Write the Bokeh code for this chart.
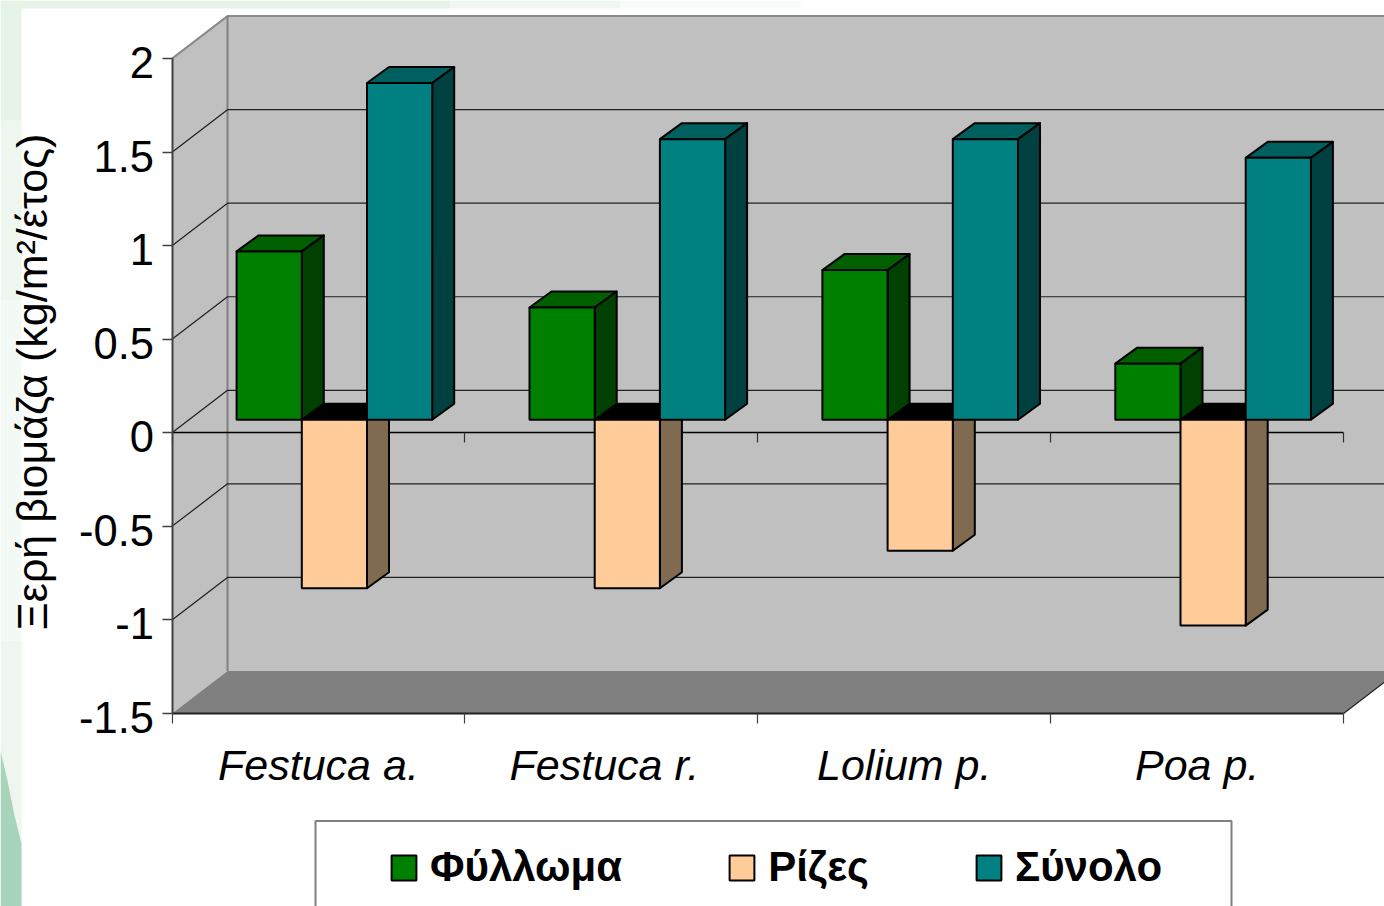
from bokeh.embed import file_html
from bokeh.resources import INLINE
from bokeh.plotting import figure
from bokeh.models import (ColumnDataSource, FixedTicker, Legend, LegendItem, LinearAxis, Range1d)

# ---- data ----
categories = ["Festuca a.", "Festuca r.", "Lolium p.", "Poa p."]
foliage = [0.9, 0.6, 0.8, 0.3]
roots = [-0.9, -0.9, -0.7, -1.1]
total = [1.8, 1.5, 1.5, 1.4]
series_names = ["Φύλλωμα", "Ρίζες", "Σύνολο"]
value_ticks = [-1.5, -1, -0.5, 0, 0.5, 1, 1.5, 2]
value_labels = ["-1.5", "-1", "-0.5", "0", "0.5", "1", "1.5", "2"]
y_title = "Ξερή βιομάζα (kg/m²/έτος)"

# ---- layout constants (pixels of the page) ----
W, H = 1384, 906
X0, CW = 171.5, 292.9      # left end of the category axis, width of a category
Y0, VH = 432.3, 187.1      # page y of value 0, pixels per unit
px = lambda n: n / CW
py = lambda n: n / VH
DX, DY = px(55.5), py(42.5)  # depth of the chart box
BW = px(65.2)              # bar width
BOFF, BLIFT = px(64.6), py(13)
BDX, BDY = px(22), py(16)  # depth of a bar
FONT = "Liberation Sans"
PX = lambda x: px(x - X0)
PY = lambda y: (Y0 - y) / VH

p = figure(width=W, height=H, output_backend="svg", toolbar_location=None,
           x_range=Range1d(PX(0), PX(W)), y_range=Range1d(PY(H), PY(0)),
           min_border=0, outline_line_color=None, background_fill_color="white",
           border_fill_color="white")
p.xaxis.visible = False
p.yaxis.visible = False
p.grid.visible = False

xs_end, vmin, vmax = len(categories), value_ticks[0], value_ticks[-1]
right_px = PX(W) + 1

# slide background showing at the left and top edges
for a, b, c in [(0, 120, "#e6f3e8"), (120, 300, "#edf6ef"), (300, 640, "#f3f9f5"), (640, 906, "#eef6ef")]:
    p.quad(left=PX(0), right=PX(21), top=PY(a), bottom=PY(b), fill_color=c, line_color=None, level="image")
p.patch([PX(0), PX(7), PX(14), PX(21), PX(21), PX(0)],
        [PY(750), PY(780), PY(815), PY(843), PY(906), PY(906)],
        fill_color="#a9d4bc", line_color=None, level="image")
for a, b, c in [(0, 450, "#e8f3e8"), (450, 620, "#eff7f1"), (620, 800, "#f8fbf9")]:
    p.quad(left=PX(a), right=PX(b), top=PY(0), bottom=PY(8), fill_color=c, line_color=None, level="image")

# walls and floor
p.patch([0, DX, DX, 0], [vmin, vmin + DY, vmax + DY, vmax], fill_color="#c0c0c0", line_color=None, level="image")
p.patch([DX, right_px, right_px, DX], [vmin + DY, vmin + DY, vmax + DY, vmax + DY], fill_color="#c0c0c0", line_color=None, level="image")
p.patch([0, DX, xs_end + DX, xs_end], [vmin, vmin + DY, vmin + DY, vmin], fill_color="#808080", line_color=None, level="image")
p.line([xs_end, xs_end + DX], [vmin, vmin + DY], line_color="#202020", line_width=1.2, level="image")
p.line([0, DX, right_px], [vmax, vmax + DY, vmax + DY], line_color="#8a8a8a", line_width=2, level="image")
p.line([DX, DX], [vmin + DY, vmax + DY], line_color="#808080", line_width=2, level="image")
for v in value_ticks[1:-1]:
    p.line([0, DX, right_px], [v, v + DY, v + DY], line_color="#202020", line_width=1.2, level="image")

# legend box
p.quad(left=PX(315), right=PX(1231), top=PY(820.5), bottom=PY(930),
       fill_color="white", line_color="#808080", line_width=2, level="image")

# axes: ticks and line
ax_left = LinearAxis(fixed_location=0, bounds=(vmin, vmax), ticker=FixedTicker(ticks=value_ticks),
                     major_label_text_color=None, major_tick_in=0, major_tick_out=10,
                     minor_tick_line_color=None, axis_line_color="#404040", axis_line_width=2,
                     major_tick_line_color="#404040", major_tick_line_width=1.5, level="underlay")
p.add_layout(ax_left, "left")

# axis: value labels and title, set slightly below the tick marks as in the source
label_ticks = [round(v - py(4), 4) for v in value_ticks]
ax_labels = LinearAxis(fixed_location=0, bounds=(vmin - py(5), vmax + py(13)), ticker=FixedTicker(ticks=label_ticks),
                       major_label_overrides=dict(zip(label_ticks, value_labels)), axis_label=y_title,
                       axis_label_text_font=FONT, axis_label_text_font_size="43px",
                       axis_label_text_font_style="normal", axis_label_text_color="black",
                       axis_label_standoff=21, major_label_text_font=FONT,
                       major_label_text_font_size="43.5px", major_label_text_color="black",
                       major_label_standoff=8, major_tick_in=0, major_tick_out=10,
                       major_tick_line_color=None, minor_tick_line_color=None,
                       axis_line_color=None, level="underlay")
p.add_layout(ax_labels, "left")

ax_zero = LinearAxis(fixed_location=0, bounds=(0, xs_end), ticker=FixedTicker(ticks=list(range(xs_end + 1))),
                     major_label_text_color=None, major_tick_in=0, major_tick_out=10,
                     minor_tick_line_color=None, axis_line_color="black", axis_line_width=1.5,
                     major_tick_line_color="#303030", major_tick_line_width=1.2, level="underlay")
p.add_layout(ax_zero, "below")

ax_bottom = LinearAxis(fixed_location=vmin, bounds=(0, xs_end), ticker=FixedTicker(ticks=list(range(xs_end + 1))),
                       major_label_text_color=None, major_tick_in=0, major_tick_out=10,
                       minor_tick_line_color=None, axis_line_color="#202020", axis_line_width=2,
                       major_tick_line_color="#404040", major_tick_line_width=1.2, level="underlay")
p.add_layout(ax_bottom, "below")

label_pos = [0.5, 1.476, 2.5, 3.5]
ax_cat = LinearAxis(fixed_location=vmin, bounds=(0, xs_end), ticker=FixedTicker(ticks=label_pos),
                    major_label_overrides=dict(zip(label_pos, categories)),
                    major_label_text_font=FONT, major_label_text_font_size="43px",
                    major_label_text_font_style="italic", major_label_text_color="black",
                    major_label_standoff=22, major_tick_line_color=None, minor_tick_line_color=None,
                    axis_line_color=None, level="underlay")
p.add_layout(ax_cat, "below")

renderers = {}
styles = [
    (roots, 1, "#ffcc99", "#806a50", "#000000", "Ρίζες"),
    (foliage, 0, "#008000", "#004000", "#006000", "Φύλλωμα"),
    (total, 2, "#008080", "#004040", "#006060", "Σύνολο"),
]
for vals, k, front, side, topc, name in styles:
    lefts = [i + BOFF + k * BW for i in range(len(categories))]
    rights = [x + BW for x in lefts]
    tops = [max(v, 0) + BLIFT for v in vals]
    bots = [min(v, 0) + BLIFT for v in vals]
    p.patches([[a, b, b + BDX, a + BDX] for a, b in zip(lefts, rights)],
              [[t, t, t + BDY, t + BDY] for t in tops],
              fill_color=topc, line_color="black", line_width=2, line_join="round")
    p.patches([[b, b + BDX, b + BDX, b] for b in rights],
              [[t, t + BDY, u + BDY, u] for t, u in zip(tops, bots)],
              fill_color=side, line_color="black", line_width=2, line_join="round")
    src = ColumnDataSource(dict(left=lefts, right=rights, top=tops, bottom=bots))
    renderers[name] = p.quad(left="left", right="right", top="top", bottom="bottom", source=src,
                             fill_color=front, line_color="black", line_width=2)

legend = Legend(items=[LegendItem(label=n, renderers=[renderers[n]]) for n in series_names],
                orientation="horizontal", location=(388, 13), padding=0, margin=0,
                spacing=104, glyph_width=31, glyph_height=31, label_standoff=11,
                label_height=52, label_text_font=FONT, label_text_font_size="42px",
                label_text_font_style="bold", label_text_color="black",
                border_line_color=None, background_fill_alpha=0, click_policy="none")
p.add_layout(legend, "center")

open("out.html", "w").write(file_html(p, INLINE))
